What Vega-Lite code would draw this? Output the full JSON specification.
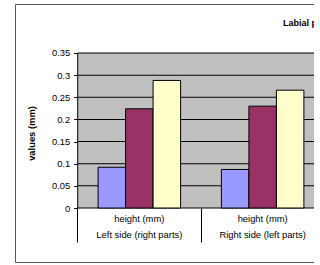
{
  "$schema": "https://vega.github.io/schema/vega-lite/v6.json",
  "autosize": {"type": "none"},
  "padding": {"left": 15, "top": 4, "right": -1, "bottom": 3},
  "width": 300,
  "height": 258,
  "background": "white",
  "config": {
    "view": {"stroke": "#555555", "strokeWidth": 1},
    "font": "Liberation Sans",
    "axisY": {
      "orient": "left",
      "offset": -62.7,
      "domain": false,
      "grid": false,
      "tickSize": 4,
      "tickColor": "black",
      "labelPadding": 4,
      "labelFont": "Liberation Sans",
      "labelFontSize": 9.4,
      "labelColor": "black",
      "labelFlush": false,
      "labelOverlap": false,
      "titleFont": "Liberation Sans",
      "titleFontSize": 9.4,
      "titleFontWeight": "bold",
      "titleColor": "black",
      "titlePadding": 15
    }
  },
  "title": {
    "text": "Labial parts",
    "anchor": "start",
    "frame": "group",
    "dx": 268,
    "offset": -31,
    "baseline": "alphabetic",
    "font": "Liberation Sans",
    "fontSize": 9,
    "fontWeight": "bold",
    "color": "black"
  },
  "datasets": {
    "bars": [
      {"side": "Left side (right parts)", "series": "Min", "value": 0.092},
      {"side": "Left side (right parts)", "series": "Mean", "value": 0.224},
      {"side": "Left side (right parts)", "series": "Max", "value": 0.288},
      {"side": "Right side (left parts)", "series": "Min", "value": 0.087},
      {"side": "Right side (left parts)", "series": "Mean", "value": 0.230},
      {"side": "Right side (left parts)", "series": "Max", "value": 0.266}
    ],
    "cats": [
      {"side": "Left side (right parts)"},
      {"side": "Right side (left parts)"}
    ],
    "grid": [
      {"side": "Left side (right parts)", "g": 0},
      {"side": "Left side (right parts)", "g": 0.05},
      {"side": "Left side (right parts)", "g": 0.1},
      {"side": "Left side (right parts)", "g": 0.15},
      {"side": "Left side (right parts)", "g": 0.2},
      {"side": "Left side (right parts)", "g": 0.25},
      {"side": "Left side (right parts)", "g": 0.3},
      {"side": "Left side (right parts)", "g": 0.35},
      {"side": "Right side (left parts)", "g": 0},
      {"side": "Right side (left parts)", "g": 0.05},
      {"side": "Right side (left parts)", "g": 0.1},
      {"side": "Right side (left parts)", "g": 0.15},
      {"side": "Right side (left parts)", "g": 0.2},
      {"side": "Right side (left parts)", "g": 0.25},
      {"side": "Right side (left parts)", "g": 0.3},
      {"side": "Right side (left parts)", "g": 0.35}
    ]
  },
  "encoding": {
    "x": {
      "field": "side",
      "type": "nominal",
      "sort": null,
      "scale": {"range": [62.7, 309.3], "paddingInner": 0, "paddingOuter": 0},
      "axis": {
        "orient": "bottom",
        "offset": -54,
        "title": null,
        "domain": false,
        "bandPosition": 0,
        "ticks": true,
        "tickSize": 34,
        "tickColor": "black",
        "tickWidth": 1,
        "labelAngle": 0,
        "labelOffset": 0,
        "labelPadding": -28,
        "labelBaseline": "top",
        "labelExpr": "['height (mm)', datum.label]",
        "labelLineHeight": 16,
        "labelFont": "Liberation Sans",
        "labelFontSize": 9.4,
        "labelColor": "black",
        "labelFlush": false,
        "labelOverlap": false,
        "labelBound": false
      }
    }
  },
  "layer": [
    {
      "data": {"name": "cats"},
      "mark": {"type": "rect", "fill": "#C0C0C0", "stroke": null},
      "encoding": {
        "y": {
          "datum": 0.35,
          "type": "quantitative",
          "scale": {"domain": [-0.1219, 0.4606], "nice": false, "zero": false},
          "axis": {"values": [0, 0.05, 0.1, 0.15, 0.2, 0.25, 0.3, 0.35], "format": ".2~f", "title": "values (mm)"}
        },
        "y2": {"datum": 0}
      }
    },
    {
      "data": {"name": "grid"},
      "mark": {"type": "tick", "color": "black", "thickness": 1, "size": 123.3, "opacity": 1},
      "encoding": {
        "y": {
          "field": "g",
          "type": "quantitative",
          "axis": {"values": [0, 0.05, 0.1, 0.15, 0.2, 0.25, 0.3, 0.35], "format": ".2~f", "title": "values (mm)"}
        }
      }
    },
    {
      "data": {"name": "bars"},
      "mark": {"type": "bar", "stroke": "black", "strokeWidth": 1},
      "encoding": {
        "xOffset": {
          "field": "series",
          "type": "nominal",
          "sort": ["Min", "Mean", "Max"],
          "scale": {"paddingInner": 0, "paddingOuter": 0.742}
        },
        "y": {
          "field": "value",
          "type": "quantitative",
          "axis": {"values": [0, 0.05, 0.1, 0.15, 0.2, 0.25, 0.3, 0.35], "format": ".2~f", "title": "values (mm)"}
        },
        "y2": {"datum": 0},
        "color": {
          "field": "series",
          "type": "nominal",
          "sort": ["Min", "Mean", "Max"],
          "scale": {"domain": ["Min", "Mean", "Max"], "range": ["#9999FF", "#993366", "#FFFFCC"]},
          "legend": null
        }
      }
    },
    {
      "data": {"name": "cats"},
      "transform": [{"filter": "datum.side === 'Left side (right parts)'"}],
      "mark": {"type": "rule", "color": "black", "strokeWidth": 1},
      "encoding": {
        "x": {"field": "side", "type": "nominal", "sort": null, "bandPosition": 0},
        "y": {
          "datum": 0.35,
          "type": "quantitative",
          "axis": {"values": [0, 0.05, 0.1, 0.15, 0.2, 0.25, 0.3, 0.35], "format": ".2~f", "title": "values (mm)"}
        },
        "y2": {"datum": 0}
      }
    }
  ]
}
